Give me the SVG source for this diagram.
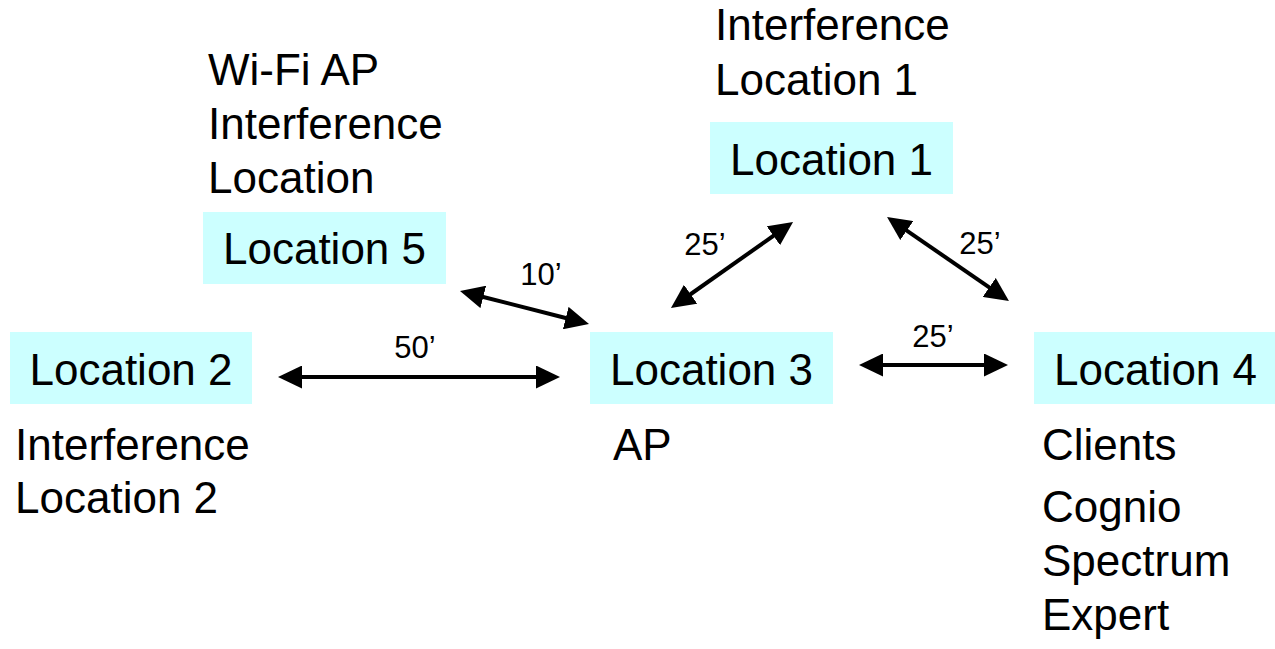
<svg xmlns="http://www.w3.org/2000/svg" width="1275" height="649" viewBox="0 0 1275 649">
<style>
  text { font-family: "Liberation Sans", Arial, sans-serif; fill: #000; }
  .t { font-size: 44px; }
  .lbl { font-size: 31px; text-anchor: middle; }
  .box { fill: #CCFFFF; }
  .bt { font-size: 44px; text-anchor: middle; }
  .conn line { stroke: #000; stroke-width: 4; marker-start: url(#ah); marker-end: url(#ah); }
</style>
<defs>
  <marker id="ah" markerUnits="userSpaceOnUse" markerWidth="24" markerHeight="23" refX="4" refY="11.5" orient="auto-start-reverse" viewBox="0 0 24 23">
    <path d="M0,0 L24,11.5 L0,23 z" fill="#000"/>
  </marker>
</defs>
<rect width="1275" height="649" fill="#fff"/>

<g id="location1">
  <text class="t" x="715" y="40">Interference</text>
  <text class="t" x="715" y="95">Location 1</text>
  <rect class="box" x="710" y="122" width="243" height="72"/>
  <text class="bt" x="831.5" y="175">Location 1</text>
</g>

<g id="location5">
  <text class="t" x="208" y="85">Wi-Fi AP</text>
  <text class="t" x="208" y="139">Interference</text>
  <text class="t" x="208" y="193">Location</text>
  <rect class="box" x="203" y="212" width="243" height="72"/>
  <text class="bt" x="324.5" y="264">Location 5</text>
</g>

<g id="location2">
  <rect class="box" x="10" y="332" width="242" height="72"/>
  <text class="bt" x="131" y="385">Location 2</text>
  <text class="t" x="15" y="460">Interference</text>
  <text class="t" x="15" y="513">Location 2</text>
</g>

<g id="location3">
  <rect class="box" x="590" y="332" width="243" height="72"/>
  <text class="bt" x="711.5" y="385">Location 3</text>
  <text class="t" x="613" y="460">AP</text>
</g>

<g id="location4">
  <rect class="box" x="1034" y="332" width="243" height="72"/>
  <text class="bt" x="1155.5" y="385">Location 4</text>
  <text class="t" x="1042" y="460">Clients</text>
  <text class="t" x="1042" y="522">Cognio</text>
  <text class="t" x="1042" y="576">Spectrum</text>
  <text class="t" x="1042" y="630">Expert</text>
</g>

<g id="connectors" class="conn">
  <line x1="298" y1="377" x2="540" y2="377"/>
  <line x1="479.4" y1="296" x2="569.6" y2="319"/>
  <line x1="687.3" y1="296.5" x2="776.7" y2="233.5"/>
  <line x1="903.5" y1="228.3" x2="992.5" y2="289.7"/>
  <line x1="879" y1="365" x2="988" y2="365"/>
  <text class="lbl" x="415" y="358">50’</text>
  <text class="lbl" x="541" y="285">10’</text>
  <text class="lbl" x="705" y="255">25’</text>
  <text class="lbl" x="980" y="254">25’</text>
  <text class="lbl" x="933" y="347">25’</text>
</g>
</svg>
